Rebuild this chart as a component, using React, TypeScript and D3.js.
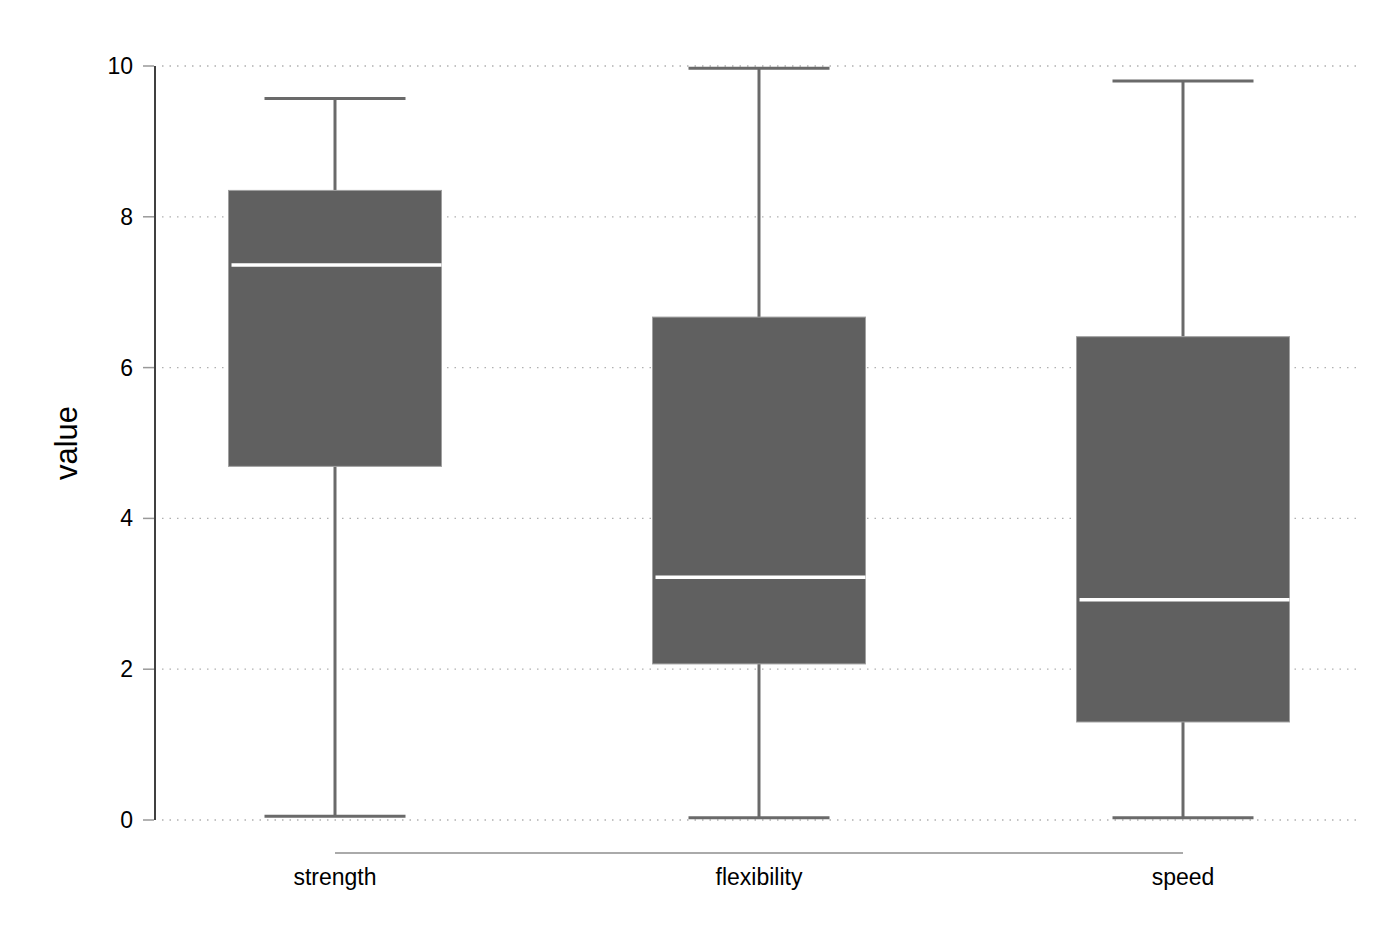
import React from "react";
import * as d3 from "d3";

const categories = ["strength", "flexibility", "speed"];
const whiskerLow = [0.05, 0.03, 0.03];
const q1 = [4.69, 2.07, 1.3];
const medians = [7.36, 3.22, 2.92];
const q3 = [8.35, 6.67, 6.41];
const whiskerHigh = [9.57, 9.97, 9.8];
const yTicks = [0, 2, 4, 6, 8, 10];

const W = 1398;
const H = 932;

export default function App() {
  const y = d3.scaleLinear().domain([0, 10]).range([820, 66]);
  const x = d3.scalePoint<string>().domain(categories).range([335, 1183]);
  const boxW = 213;
  const capW = 141;
  const font = "'Liberation Sans', Arial, Helvetica, sans-serif";
  return (
    <svg width={W} height={H} style={{ position: "absolute", left: 0, top: 0, background: "#fff" }}>
      {yTicks.map((t) => (
        <line key={"g" + t} x1={162} x2={1360} y1={y(t)} y2={y(t)} stroke="#b0b0b0" strokeWidth={1.3} strokeDasharray="1.5 6" />
      ))}
      {yTicks.map((t) => (
        <g key={"t" + t}>
          <line x1={143} x2={154} y1={y(t)} y2={y(t)} stroke="#999" strokeWidth={1.5} />
          <text x={133} y={y(t)} dy="0.35em" textAnchor="end" fontFamily={font} fontSize={23} fill="#000">
            {t}
          </text>
        </g>
      ))}
      <line x1={155} x2={155} y1={y(10)} y2={y(0)} stroke="#000" strokeWidth={1.5} />
      <text transform={`translate(77,${443}) rotate(-90)`} textAnchor="middle" fontFamily={font} fontSize={31} fill="#000">
        value
      </text>
      <line x1={x(categories[0])} x2={x(categories[categories.length - 1])} y1={853} y2={853} stroke="#aaaaaa" strokeWidth={2} />
      {categories.map((c) => (
        <text key={"x" + c} x={x(c)} y={885} textAnchor="middle" fontFamily={font} fontSize={23} fill="#000">
          {c}
        </text>
      ))}
      {categories.map((c, i) => {
        const cx = x(c)!;
        return (
          <g key={"b" + c}>
            <line x1={cx} x2={cx} y1={y(whiskerHigh[i])} y2={y(q3[i])} stroke="#6a6a6a" strokeWidth={3} />
            <line x1={cx} x2={cx} y1={y(q1[i])} y2={y(whiskerLow[i])} stroke="#6a6a6a" strokeWidth={3} />
            <line x1={cx - capW / 2} x2={cx + capW / 2} y1={y(whiskerHigh[i])} y2={y(whiskerHigh[i])} stroke="#6a6a6a" strokeWidth={3} />
            <line x1={cx - capW / 2} x2={cx + capW / 2} y1={y(whiskerLow[i])} y2={y(whiskerLow[i])} stroke="#6a6a6a" strokeWidth={3} />
            <rect x={cx - boxW / 2} y={y(q3[i])} width={boxW} height={y(q1[i]) - y(q3[i])} fill="#606060" stroke="#a0a0a0" strokeWidth={1} />
            <line x1={cx - boxW / 2 + 3} x2={cx + boxW / 2} y1={y(medians[i])} y2={y(medians[i])} stroke="#ffffff" strokeWidth={3.5} />
          </g>
        );
      })}
    </svg>
  );
}
